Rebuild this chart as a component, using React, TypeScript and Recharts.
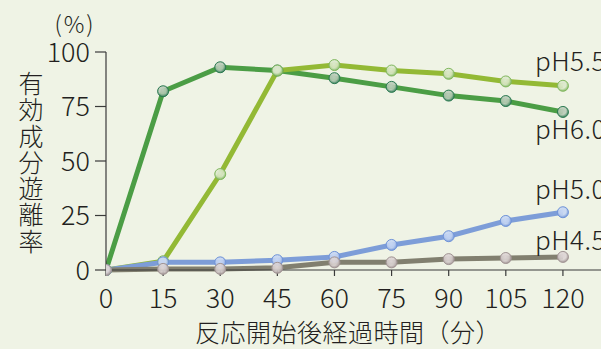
import React from 'react';
import { LineChart, Line, XAxis, YAxis, LabelList } from 'recharts';

const minutes = [0, 15, 30, 45, 60, 75, 90, 105, 120];
const ph60 = [0, 82, 93, 91.5, 88, 84, 80, 77.5, 72.5];
const ph55 = [0, 4, 44, 91.5, 94, 91.5, 90, 86.5, 84.5];
const ph50 = [0, 3.5, 3.5, 4.5, 6, 11.5, 15.5, 22.5, 26.5];
const ph45 = [0, 0.5, 0.5, 1, 3.5, 3.5, 5, 5.5, 6];

const xTicks = [0, 15, 30, 45, 60, 75, 90, 105, 120];
const yTicks = [0, 25, 50, 75, 100];

const rows = minutes.map((m, i) => ({
    m,
    ph60: ph60[i],
    ph55: ph55[i],
    ph50: ph50[i],
    ph45: ph45[i],
}));

const FONT = '"Noto Sans CJK JP", "Noto Sans", sans-serif';
const INK = '#231f20';
const AXIS = '#3a3a3a';

type SeriesStyle = {
    key: string;
    name: string;
    line: string;
    edge: string;
    core: string;
    dx: number;
    dy: number;
};

const series: SeriesStyle[] = [
    { key: 'ph60', name: 'pH6.0', line: '#4b9d45', edge: '#2c7a52', core: '#b9cbb8', dx: -28, dy: 27 },
    { key: 'ph55', name: 'pH5.5', line: '#93b935', edge: '#82b860', core: '#dbe8cb', dx: -28, dy: -15 },
    { key: 'ph50', name: 'pH5.0', line: '#7d9dd8', edge: '#6f93d8', core: '#c6d6f3', dx: -28, dy: -13 },
    { key: 'ph45', name: 'pH4.5', line: '#817f6f', edge: '#a19494', core: '#dcd4d4', dx: -28, dy: -7 },
];

const makeDot = (s: SeriesStyle) => (props: any) => {
    const { cx, cy, index } = props;
    return (
        <circle
            key={`${s.key}-dot-${index}`}
            cx={cx}
            cy={cy}
            r={5.5}
            fill={`url(#grad-${s.key})`}
            stroke={s.edge}
            strokeWidth={1}
        />
    );
};

// series name written just beside the 120-minute point
const makeEndLabel = (s: SeriesStyle) => (props: any) => {
    const { x, y, index } = props;
    if (index !== minutes.length - 1) return null;
    return (
        <text
            x={x + s.dx}
            y={y + s.dy}
            fontSize={26}
            fontWeight={300}
            letterSpacing={0.5}
            fontFamily={FONT}
            fill={INK}
        >
            {s.name}
        </text>
    );
};

export default function App() {
    return (
        <div style={{ position: 'absolute', left: 0, top: 0, width: 601, height: 349, background: '#eff3e5', overflow: 'hidden' }}>
            <LineChart
                width={601}
                height={349}
                data={rows}
                margin={{ top: 52, right: 0, bottom: 49, left: 0 }}
            >
                <defs>
                    {series.map((s) => (
                        <radialGradient key={s.key} id={`grad-${s.key}`} cx="45%" cy="40%" r="60%">
                            <stop offset="0%" stopColor={s.core} />
                            <stop offset="55%" stopColor={s.core} stopOpacity={0.85} />
                            <stop offset="100%" stopColor={s.edge} />
                        </radialGradient>
                    ))}
                </defs>
                <XAxis
                    dataKey="m"
                    type="number"
                    domain={[0, 130]}
                    ticks={xTicks}
                    height={30}
                    tickSize={6}
                    tickMargin={13}
                    stroke={AXIS}
                    strokeWidth={1.2}
                    tick={{ fontSize: 27, fontWeight: 300, fontFamily: FONT, fill: INK }}
                    allowDataOverflow
                />
                <YAxis
                    type="number"
                    domain={[0, 100]}
                    ticks={yTicks}
                    width={106}
                    tickSize={11}
                    tickMargin={5}
                    stroke={AXIS}
                    strokeWidth={1.2}
                    tick={{ fontSize: 27, fontWeight: 300, fontFamily: FONT, fill: INK }}
                />
                {series.map((s) => (
                    <Line
                        key={s.key}
                        type="linear"
                        dataKey={s.key}
                        stroke={s.line}
                        strokeWidth={5}
                        dot={makeDot(s)}
                        activeDot={false}
                        isAnimationActive={false}
                    >
                        <LabelList dataKey={s.key} content={makeEndLabel(s)} />
                    </Line>
                ))}
                <text x={75} y={33} textAnchor="middle" fontSize={23} fontWeight={300} letterSpacing={2} fontFamily={FONT} fill={INK}>
                    (%)
                </text>
                <text
                    x={31}
                    y={71}
                    writingMode="vertical-rl"
                    fontSize={25}
                    letterSpacing={1.3}
                    fontWeight={300}
                    fontFamily={FONT}
                    fill={INK}
                >
                    有効成分遊離率
                </text>
                <text x={195} y={342} fontSize={25} fontWeight={300} letterSpacing={0.5} fontFamily={FONT} fill={INK}>
                    反応開始後経過時間（分）
                </text>
            </LineChart>
        </div>
    );
}
